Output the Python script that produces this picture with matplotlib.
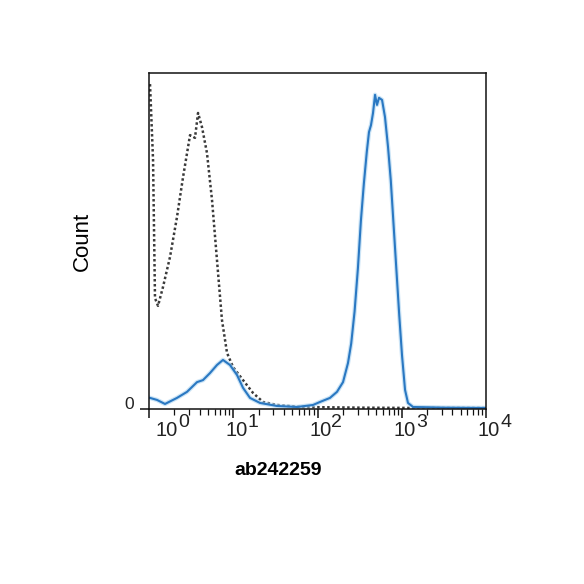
import numpy as np
import matplotlib
matplotlib.use('Agg')
import matplotlib.pyplot as plt
from matplotlib.ticker import LogLocator, NullFormatter, FixedLocator
from matplotlib.transforms import ScaledTranslation

plt.rcParams['font.family'] = ['Liberation Sans', 'DejaVu Sans']

# isotype control (dotted), x given as log10 of intensity, y as % of max scale
ctrl_log = [0.012, 0.048, 0.071, 0.107, 0.166, 0.249, 0.332, 0.404, 0.487, 0.546,
            0.582, 0.629, 0.688, 0.748, 0.807, 0.866, 0.926, 0.997, 1.116, 1.234,
            1.353, 1.519, 1.792, 2.5, 3.2, 4.0]
ctrl_count = [96.7, 74.1, 33.0, 30.7, 36.3, 45.2, 57.1, 69.0, 81.5, 80.7,
              88.1, 83.9, 76.2, 62.2, 44.3, 26.5, 16.7, 12.5, 8.6, 4.8,
              2.1, 1.2, 0.6, 0.4, 0.3, 0.3]

# ab242259 stained sample (blue)
stain_log = [0.012, 0.095, 0.190, 0.332, 0.451, 0.570, 0.641, 0.724, 0.807, 0.878,
             0.961, 1.045, 1.116, 1.199, 1.318, 1.519, 1.757, 1.947, 2.030, 2.148,
             2.231, 2.303, 2.362, 2.400, 2.440, 2.480, 2.515, 2.550, 2.585, 2.611, 2.635,
             2.659, 2.683, 2.706, 2.730, 2.766, 2.801, 2.837, 2.870, 2.900, 2.935, 2.970,
             3.003, 3.039, 3.074, 3.134, 3.5, 4.0]
stain_count = [3.3, 2.7, 1.5, 3.3, 5.1, 8.0, 8.6, 10.7, 13.1, 14.6,
               13.1, 10.1, 6.3, 3.3, 1.8, 0.9, 0.6, 1.2, 2.1, 3.3,
               5.1, 8.0, 13.7, 19.5, 29.0, 42.0, 56.0, 67.0, 76.5, 82.4, 84.5,
               88.1, 93.5, 90.5, 92.6, 92.0, 86.9, 78.0, 68.0, 56.0, 42.0, 28.0,
               16.0, 5.7, 1.8, 0.6, 0.4, 0.3]

decades = [0, 1, 2, 3, 4]
decade_labels = ['0', '1', '2', '3', '4']

fig = plt.figure(figsize=(5.84, 5.84), dpi=100)
ax = fig.add_axes([149 / 584, 1 - 409 / 584, 337 / 584, 336 / 584])

ax.plot(np.power(10.0, ctrl_log), ctrl_count, color='#3a3a3a', lw=1.8,
        linestyle=(0, (1, 1.0)))
ax.plot(np.power(10.0, stain_log), stain_count, color='#a9d2f0', lw=3.2, alpha=0.6)
ax.plot(np.power(10.0, stain_log), stain_count, color='#2a78c2', lw=1.5)

ax.set_xscale('log')
ax.set_xlim(1, 1e4)
ax.set_ylim(0, 100)

for s in ax.spines.values():
    s.set_linewidth(1.1)
    s.set_color('#111111')

ax.xaxis.set_major_locator(FixedLocator([10.0 ** d for d in decades]))
ax.xaxis.set_minor_locator(LogLocator(base=10, subs=range(2, 10)))
ax.xaxis.set_major_formatter(NullFormatter())
ax.xaxis.set_minor_formatter(NullFormatter())
ax.tick_params(axis='x', which='major', direction='out', length=6.5, width=1.1, color='#111111')
ax.tick_params(axis='x', which='minor', direction='out', length=4, width=0.9, color='#111111')

ax.set_yticks([0])
ax.set_yticklabels(['0'], fontsize=12.5, color='#222222')
ax.tick_params(axis='y', direction='out', length=6.5, width=1.1, pad=4, color='#111111')
for lab in ax.get_yticklabels():
    lab.set_transform(lab.get_transform() + ScaledTranslation(0, 6 / 100, fig.dpi_scale_trans))

# decade labels drawn as "10" plus a full-size exponent, like the cytometer software
for d, e in zip(decades, decade_labels):
    shift = 18 if d == 0 else 3
    ax.annotate('10', xy=(10.0 ** d, 0), xycoords=('data', 'axes fraction'),
                xytext=(shift * 0.72, -27 * 0.72), textcoords='offset points',
                ha='center', va='baseline', fontsize=14.5, color='#222222')
    ax.annotate(e, xy=(10.0 ** d, 0), xycoords=('data', 'axes fraction'),
                xytext=((shift + 11) * 0.72, -18 * 0.72), textcoords='offset points',
                ha='left', va='baseline', fontsize=14, color='#222222')

ax.set_ylabel('Count', fontsize=16)
ax.yaxis.set_label_coords(-0.166, 0.5)
ax.set_xlabel('ab242259', fontsize=14, fontweight='bold')
ax.xaxis.set_label_coords(0.383, -0.158)

fig.savefig('out.png', dpi=100)
